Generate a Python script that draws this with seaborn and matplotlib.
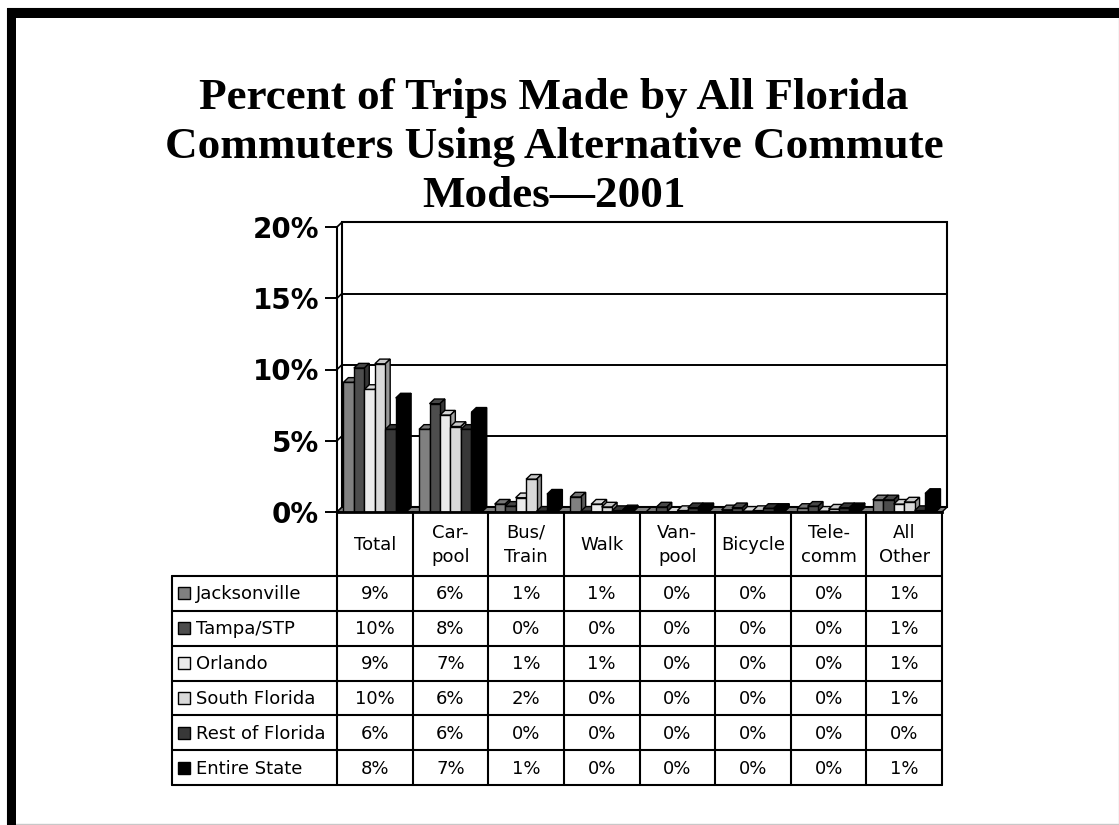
import numpy as np
import pandas as pd
import matplotlib
matplotlib.use("Agg")
import matplotlib.pyplot as plt
from matplotlib.patches import Polygon, Rectangle
from matplotlib.colors import to_rgb
import seaborn as sns

# ---- data -------------------------------------------------------------
modes = ["Total", "Carpool", "Bus/Train", "Walk", "Vanpool", "Bicycle", "Telecomm", "All Other"]
mode_labels = ["Total", "Car-\npool", "Bus/\nTrain", "Walk", "Van-\npool", "Bicycle", "Tele-\ncomm", "All\nOther"]
regions = ["Jacksonville", "Tampa/STP", "Orlando", "South Florida", "Rest of Florida", "Entire State"]

jacksonville = [9.1, 5.8, 0.55, 1.05, 0.0, 0.15, 0.25, 0.85]
tampa_stp = [10.1, 7.6, 0.4, 0.05, 0.35, 0.3, 0.4, 0.85]
orlando = [8.6, 6.8, 1.0, 0.55, 0.0, 0.05, 0.05, 0.55]
south_florida = [10.4, 6.0, 2.3, 0.35, 0.1, 0.1, 0.2, 0.7]
rest_of_florida = [5.8, 5.8, 0.05, 0.1, 0.3, 0.25, 0.3, 0.1]
entire_state = [8.0, 7.0, 1.25, 0.15, 0.3, 0.25, 0.3, 1.3]

y_ticks = [0, 5, 10, 15, 20]
title_lines = ["Percent of Trips Made by All Florida",
               "Commuters Using Alternative Commute",
               "Modes\u20142001"]

colors = ["#808080", "#4d4d4d", "#ebebeb", "#d9d9d9", "#383838", "#000000"]

series = [jacksonville, tampa_stp, orlando, south_florida, rest_of_florida, entire_state]
df = pd.DataFrame([
    {"mode": m, "region": r, "pct": v}
    for r, vals in zip(regions, series)
    for m, v in zip(modes, vals)
])

# ---- figure -----------------------------------------------------------
sns.set_theme(style="white")
plt.rcParams["font.family"] = ["DejaVu Sans"]
plt.rcParams["text.color"] = "black"
plt.rcParams["xtick.color"] = "black"
plt.rcParams["ytick.color"] = "black"
plt.rcParams["axes.labelcolor"] = "black"

W, H = 1119, 825
fig = plt.figure(figsize=(W / 100, H / 100), dpi=100)
fig.patch.set_facecolor("white")


def fbox(x0, y0, x1, y1):
    """Pixel box (top-left origin) -> figure fraction rect."""
    return [x0 / W, 1 - y1 / H, (x1 - x0) / W, (y1 - y0) / H]


# frame around the slide
fig.add_artist(Rectangle((7 / W, 1 - 824 / H), (W - 7) / W, (824 - 8) / H,
                         transform=fig.transFigure, fill=False,
                         edgecolor="#c8c8c8", lw=1))
fig.add_artist(Rectangle((7 / W, 0), 9 / W, (H - 8) / H,
                         transform=fig.transFigure, color="black", lw=0))
fig.add_artist(Rectangle((7 / W, 1 - 18 / H), (W - 7) / W, 10 / H,
                         transform=fig.transFigure, color="black", lw=0))

# title
for i, line in enumerate(title_lines):
    fig.text(554 / W, 1 - (109 + 49 * i) / H, line, ha="center", va="baseline",
             fontsize=32.5, fontweight="bold", family="Liberation Serif",
             color="black")

# ---- chart axes ---------------------------------------------------------
X_L, X_R, Y_TOP, Y_BASE = 337, 942, 227, 512
ax = fig.add_axes(fbox(X_L, Y_TOP, X_R, Y_BASE))
ax.set_facecolor("none")

sns.barplot(data=df, x="mode", y="pct", hue="region", order=modes,
            hue_order=regions, palette=colors, width=0.83, gap=0,
            edgecolor="black", linewidth=1.0, legend=False, ax=ax,
            errorbar=None)

ax.set_xlim(-0.5, 7.5)
ax.set_ylim(0, 20)
dx, dy = 0.065, 0.33  # depth offset of the pseudo-3D look (data units)

# back wall with gridlines
ax.add_patch(Rectangle((-0.5 + dx, dy), 8, 20, facecolor="white",
                       edgecolor="black", lw=1.5, zorder=0.5, clip_on=False))
for t in y_ticks:
    if 0 < t < 20:
        ax.plot([-0.5 + dx, 7.5 + dx], [t + dy, t + dy], color="black",
                lw=1.4, zorder=0.6, clip_on=False)
    ax.plot([-0.5, -0.5 + dx], [t, t + dy], color="black", lw=1.2,
            zorder=0.6, clip_on=False)

# floor slab
ax.add_patch(Polygon([(-0.5, 0), (7.5, 0), (7.5 + dx, dy), (-0.5 + dx, dy)],
                     closed=True, facecolor="#808080", edgecolor="black",
                     lw=1.0, zorder=1, clip_on=False))


def shade(c, f):
    r, g, b = to_rgb(c)
    return (r * f, g * f, b * f)


# top and side faces for each bar
for k, cont in enumerate(ax.containers):
    base_z = 3 + k * 0.1
    for bar in cont:
        x0, w, h = bar.get_x(), bar.get_width(), bar.get_height()
        fc = bar.get_facecolor()
        bar.set_zorder(base_z + 0.05)
        top = Polygon([(x0, h), (x0 + w, h), (x0 + w + dx, h + dy), (x0 + dx, h + dy)],
                      closed=True, facecolor=shade(fc, 0.92), edgecolor="black",
                      lw=1.0, zorder=base_z, clip_on=False)
        side = Polygon([(x0 + w, 0), (x0 + w + dx, dy), (x0 + w + dx, h + dy), (x0 + w, h)],
                       closed=True, facecolor=shade(fc, 0.7), edgecolor="black",
                       lw=1.0, zorder=base_z, clip_on=False)
        ax.add_patch(top)
        ax.add_patch(side)

for s in ["top", "right"]:
    ax.spines[s].set_visible(False)
ax.spines["left"].set_linewidth(1.5)
ax.spines["left"].set_color("black")
ax.spines["bottom"].set_linewidth(2.0)
ax.spines["bottom"].set_color("black")
ax.spines["bottom"].set_zorder(5)

ax.set_xticks([])
ax.set_xlabel("")
ax.set_ylabel("")
ax.set_yticks(y_ticks)
ax.set_yticklabels([f"{t}%" for t in y_ticks])
ax.tick_params(axis="y", length=9, width=1.4, pad=4, labelsize=20,
               color="black", labelcolor="black", left=True)
for lab in ax.get_yticklabels():
    lab.set_fontweight("bold")

# ---- data table ---------------------------------------------------------
T_L, T_B, HDR_B = 172, 785, 576
col_w = (X_R - X_L) / 8
tax = fig.add_axes(fbox(T_L, Y_BASE, X_R, T_B))
x_left = -0.5 - (X_L - T_L) / col_w
tax.set_xlim(x_left, 7.5)
tax.set_ylim(T_B - Y_BASE, 0)
tax.axis("off")

hdr_h = HDR_B - Y_BASE
row_h = (T_B - HDR_B) / len(regions)
lw_t = 1.5
fs = 13

for c in range(9):
    xc = -0.5 + c
    tax.plot([xc, xc], [0, T_B - Y_BASE], color="black", lw=lw_t, clip_on=False)
tax.plot([x_left, x_left], [hdr_h, T_B - Y_BASE], color="black", lw=lw_t, clip_on=False)
for r in range(len(regions) + 1):
    yy = hdr_h + r * row_h
    tax.plot([x_left, 7.5], [yy, yy], color="black", lw=lw_t, clip_on=False)

for c, lab in enumerate(mode_labels):
    tax.text(c, hdr_h / 2 + 1, lab, ha="center", va="center", fontsize=fs,
             linespacing=1.5, color="black")

sw = 12 / col_w
for r, (name, vals, col) in enumerate(zip(regions, series, colors)):
    yc = hdr_h + (r + 0.5) * row_h
    tax.add_patch(Rectangle((x_left + 6 / col_w, yc - 6), sw, 12,
                            facecolor=col, edgecolor="black", lw=1.0))
    tax.text(x_left + 24 / col_w, yc + 1, name, ha="left", va="center",
             fontsize=fs, color="black")
    for c, v in enumerate(vals):
        tax.text(c, yc + 1, f"{v:.0f}%", ha="center", va="center",
                 fontsize=fs, color="black")

fig.savefig("out.png", dpi=100)
